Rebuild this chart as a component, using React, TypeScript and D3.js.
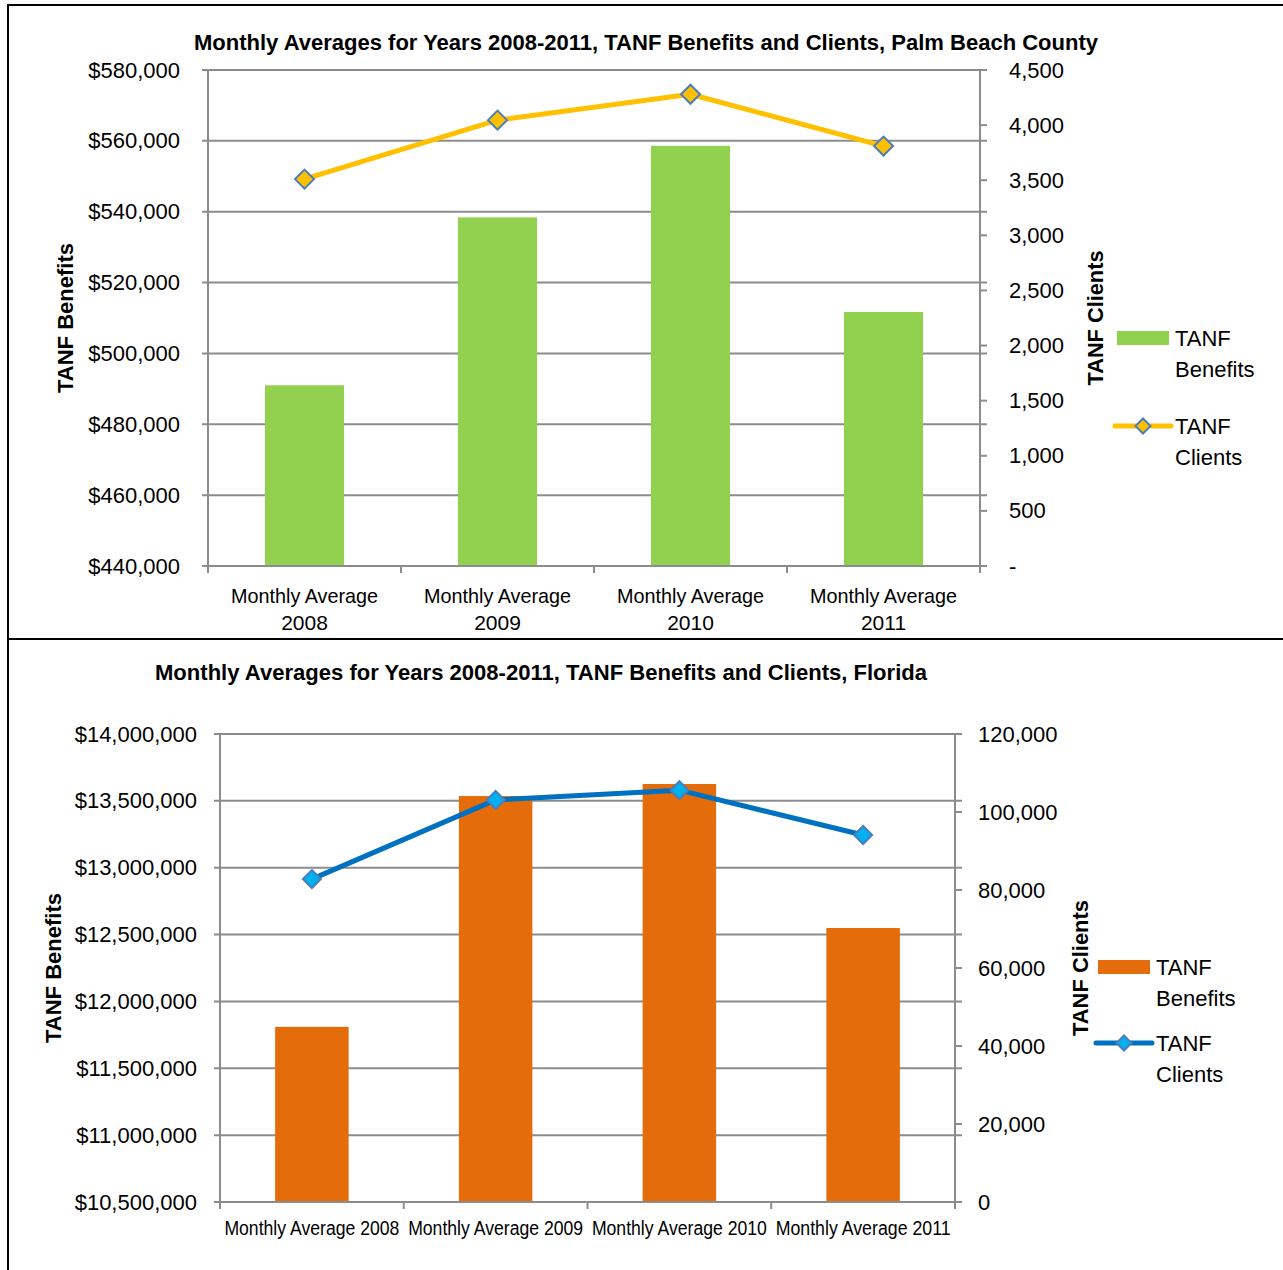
import React from "react";
import * as d3 from "d3";

const categories = ["Monthly Average 2008", "Monthly Average 2009", "Monthly Average 2010", "Monthly Average 2011"];
const pbBenefits = [491000, 538400, 558600, 511700];
const pbClients = [3510, 4045, 4280, 3810];
const flBenefits = [11810000, 13536000, 13626000, 12549000];
const flClients = [82800, 103100, 105600, 94100];
const pbLeftTicks = [440000, 460000, 480000, 500000, 520000, 540000, 560000, 580000];
const pbRightTicks = [0, 500, 1000, 1500, 2000, 2500, 3000, 3500, 4000, 4500];
const flLeftTicks = [10500000, 11000000, 11500000, 12000000, 12500000, 13000000, 13500000, 14000000];
const flRightTicks = [0, 20000, 40000, 60000, 80000, 100000, 120000];

const FONT = "'Liberation Sans', Arial, sans-serif";
const GRID = "#8c8c8c";

type Cfg = {
  title: string; titleX: number; titleY: number; titleLen: number;
  x0: number; x1: number; yTop: number; yBot: number;
  leftDom: [number, number]; rightDom: [number, number];
  leftTicks: number[]; rightTicks: number[];
  leftFmt: (v: number) => string; rightFmt: (v: number) => string;
  leftLabelX: number; rightLabelX: number;
  bars: number[]; line: number[];
  barColor: string; lineColor: string; markerFill: string;
  barPad: number; markerR: number;
  yTitleLX: number; yTitleRX: number; yTitleCY: number; lTitleLen: number; rTitleLen: number;
  catTwoLine: boolean; catY: number; catLen: number; catFont: number;
  legX: number; legBarY: number; legLineY: number;
};

function Chart({ c }: { c: Cfg }) {
  const x = d3.scaleBand<string>().domain(categories).range([c.x0, c.x1]).paddingInner(c.barPad).paddingOuter(c.barPad / 2);
  const band = d3.scaleBand<string>().domain(categories).range([c.x0, c.x1]);
  const yL = d3.scaleLinear().domain(c.leftDom).range([c.yBot, c.yTop]);
  const yR = d3.scaleLinear().domain(c.rightDom).range([c.yBot, c.yTop]);
  const lineGen = d3.line<number>().x((_, i) => band(categories[i])! + band.bandwidth() / 2).y((d) => yR(d));
  const diamond = (cx: number, cy: number, r: number) => `M${cx},${cy - r}L${cx + r},${cy}L${cx},${cy + r}L${cx - r},${cy}Z`;
  const edges = [...categories.map((k) => band(k)!), c.x1];
  return (
    <g>
      <text x={c.titleX} y={c.titleY} textAnchor="middle" dominantBaseline="central" fontFamily={FONT} fontWeight="bold" fontSize={22} textLength={c.titleLen} lengthAdjust="spacingAndGlyphs" fill="#000">{c.title}</text>
      {c.leftTicks.map((t) => (
        <g key={"l" + t}>
          <line x1={c.x0 - 6} x2={c.x1 + 7} y1={yL(t)} y2={yL(t)} stroke={GRID} strokeWidth={2} />
          <text x={c.leftLabelX} y={yL(t)} textAnchor="end" dominantBaseline="central" fontFamily={FONT} fontSize={22} fill="#000">{c.leftFmt(t)}</text>
        </g>
      ))}
      {c.rightTicks.map((t) => (
        <text key={"r" + t} x={c.rightLabelX} y={yR(t)} dominantBaseline="central" fontFamily={FONT} fontSize={22} fill="#000">{c.rightFmt(t)}</text>
      ))}
      {c.rightTicks.map((t) => (
        <line key={"rt" + t} x1={c.x1} x2={c.x1 + 7} y1={yR(t)} y2={yR(t)} stroke={GRID} strokeWidth={2} />
      ))}
      <line x1={c.x0} x2={c.x0} y1={c.yTop} y2={c.yBot} stroke={GRID} strokeWidth={2} />
      <line x1={c.x1} x2={c.x1} y1={c.yTop} y2={c.yBot} stroke={GRID} strokeWidth={2} />
      {categories.map((k, i) => (
        <rect key={k} x={x(k)!} width={x.bandwidth()} y={yL(c.bars[i])} height={c.yBot - yL(c.bars[i])} fill={c.barColor} />
      ))}
      <line x1={c.x0 - 6} x2={c.x1 + 7} y1={c.yBot} y2={c.yBot} stroke={GRID} strokeWidth={2} />
      {edges.map((e, i) => (
        <line key={"e" + i} x1={e} x2={e} y1={c.yBot} y2={c.yBot + 7} stroke={GRID} strokeWidth={2} />
      ))}
      <path d={lineGen(c.line)!} fill="none" stroke={c.lineColor} strokeWidth={5} strokeLinejoin="round" />
      {c.line.map((v, i) => (
        <path key={"m" + i} d={diamond(band(categories[i])! + band.bandwidth() / 2, yR(v), c.markerR)} fill={c.markerFill} stroke="#4a7ebb" strokeWidth={2} />
      ))}
      {categories.map((k) => {
        const cx = band(k)! + band.bandwidth() / 2;
        if (c.catTwoLine) {
          const parts = k.split(" ");
          return (
            <g key={"c" + k}>
              <text x={cx} y={c.catY} textAnchor="middle" dominantBaseline="central" fontFamily={FONT} fontSize={c.catFont} textLength={c.catLen} lengthAdjust="spacingAndGlyphs" fill="#000">{parts.slice(0, 2).join(" ")}</text>
              <text x={cx} y={c.catY + 27} textAnchor="middle" dominantBaseline="central" fontFamily={FONT} fontSize={c.catFont} fill="#000">{parts[2]}</text>
            </g>
          );
        }
        return <text key={"c" + k} x={cx} y={c.catY} textAnchor="middle" dominantBaseline="central" fontFamily={FONT} fontSize={c.catFont} textLength={c.catLen} lengthAdjust="spacingAndGlyphs" fill="#000">{k}</text>;
      })}
      <text transform={`translate(${c.yTitleLX},${c.yTitleCY}) rotate(-90)`} textAnchor="middle" dominantBaseline="central" fontFamily={FONT} fontWeight="bold" fontSize={22} textLength={c.lTitleLen} lengthAdjust="spacingAndGlyphs" fill="#000">TANF Benefits</text>
      <text transform={`translate(${c.yTitleRX},${c.yTitleCY}) rotate(-90)`} textAnchor="middle" dominantBaseline="central" fontFamily={FONT} fontWeight="bold" fontSize={22} textLength={c.rTitleLen} lengthAdjust="spacingAndGlyphs" fill="#000">TANF Clients</text>
      <rect x={c.legX + 2} y={c.legBarY - 7} width={52} height={14} fill={c.barColor} />
      <text x={c.legX + 60} y={c.legBarY} dominantBaseline="central" fontFamily={FONT} fontSize={22} fill="#000">TANF</text>
      <text x={c.legX + 60} y={c.legBarY + 31} dominantBaseline="central" fontFamily={FONT} fontSize={22} fill="#000">Benefits</text>
      <line x1={c.legX} x2={c.legX + 56} y1={c.legLineY} y2={c.legLineY} stroke={c.lineColor} strokeWidth={5} strokeLinecap="round" />
      <path d={diamond(c.legX + 28, c.legLineY, 7.5)} fill={c.markerFill} stroke="#4a7ebb" strokeWidth={2} />
      <text x={c.legX + 60} y={c.legLineY} dominantBaseline="central" fontFamily={FONT} fontSize={22} fill="#000">TANF</text>
      <text x={c.legX + 60} y={c.legLineY + 31} dominantBaseline="central" fontFamily={FONT} fontSize={22} fill="#000">Clients</text>
    </g>
  );
}

const dollar = d3.format("$,");
const comma = d3.format(",");

const top: Cfg = {
  title: "Monthly Averages for Years 2008-2011, TANF Benefits and Clients, Palm Beach County",
  titleX: 646, titleY: 42, titleLen: 904,
  x0: 208, x1: 980, yTop: 70, yBot: 566,
  leftDom: [440000, 580000], rightDom: [0, 4500],
  leftTicks: pbLeftTicks, rightTicks: pbRightTicks,
  leftFmt: (v) => dollar(v), rightFmt: (v) => (v === 0 ? "-" : comma(v)),
  leftLabelX: 180, rightLabelX: 1009,
  bars: pbBenefits, line: pbClients,
  barColor: "#92d050", lineColor: "#ffc000", markerFill: "#ffc000",
  barPad: 0.59, markerR: 9.5,
  yTitleLX: 65, yTitleRX: 1095, yTitleCY: 318, lTitleLen: 150, rTitleLen: 135,
  catTwoLine: true, catY: 595, catLen: 147, catFont: 21,
  legX: 1115, legBarY: 338, legLineY: 426,
};

const bottom: Cfg = {
  title: "Monthly Averages for Years 2008-2011, TANF Benefits and Clients, Florida",
  titleX: 541, titleY: 672, titleLen: 772,
  x0: 220, x1: 955, yTop: 734, yBot: 1202,
  leftDom: [10500000, 14000000], rightDom: [0, 120000],
  leftTicks: flLeftTicks, rightTicks: flRightTicks,
  leftFmt: (v) => dollar(v), rightFmt: (v) => comma(v),
  leftLabelX: 197, rightLabelX: 978,
  bars: flBenefits, line: flClients,
  barColor: "#e46c0a", lineColor: "#0070c0", markerFill: "#00b0f0",
  barPad: 0.6, markerR: 9,
  yTitleLX: 53, yTitleRX: 1080, yTitleCY: 968, lTitleLen: 150, rTitleLen: 136,
  catTwoLine: false, catY: 1228, catLen: 175, catFont: 20,
  legX: 1096, legBarY: 967, legLineY: 1043,
};

export default function App() {
  return (
    <svg width={1283} height={1270} style={{ position: "absolute", left: 0, top: 0, background: "#fff" }}>
      <rect x={0} y={0} width={1283} height={1270} fill="#fff" />
      <line x1={7} x2={1283} y1={5} y2={5} stroke="#000" strokeWidth={2} />
      <line x1={8} x2={8} y1={4} y2={1270} stroke="#000" strokeWidth={2} />
      <line x1={7} x2={1283} y1={639} y2={639} stroke="#000" strokeWidth={2} />
      <Chart c={top} />
      <Chart c={bottom} />
    </svg>
  );
}
